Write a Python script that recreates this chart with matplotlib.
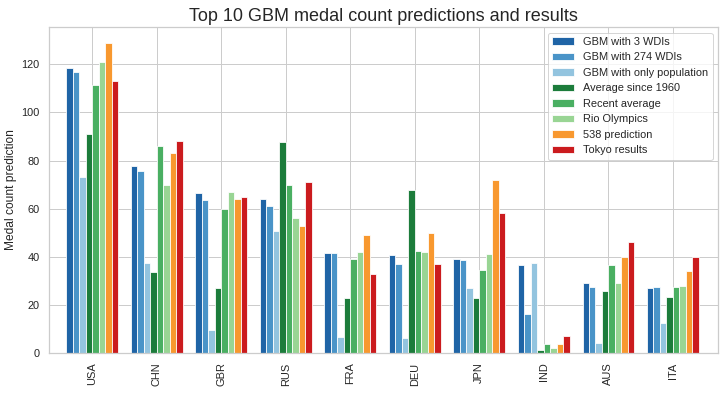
import matplotlib
matplotlib.use("Agg")
import matplotlib.pyplot as plt
import seaborn as sns
import numpy as np

sns.set_theme(style="whitegrid")
plt.rcParams['font.family'] = ['Liberation Sans', 'DejaVu Sans']

countries = ["USA", "CHN", "GBR", "RUS", "FRA", "DEU", "JPN", "IND", "AUS", "ITA"]
gbm_3wdi = [118.5, 77.8, 66.5, 64.0, 41.6, 40.8, 39.1, 36.6, 29.1, 27.0]
gbm_274wdi = [116.8, 75.8, 63.6, 61.1, 41.6, 37.0, 38.7, 16.2, 27.4, 27.4]
gbm_pop = [73.2, 37.4, 9.5, 50.7, 6.6, 6.2, 27.0, 37.4, 4.1, 12.4]
avg_1960 = [91.0, 33.7, 27.0, 87.7, 22.9, 67.8, 22.9, 1.2, 25.8, 23.3]
recent_avg = [111.4, 86.1, 59.9, 69.8, 39.1, 42.4, 34.5, 3.7, 36.6, 27.4]
rio = [121.0, 70.0, 67.0, 56.0, 42.0, 42.0, 41.0, 2.0, 29.0, 28.0]
pred_538 = [128.9, 83.1, 64.0, 52.8, 49.0, 49.9, 71.9, 3.7, 39.9, 34.1]
tokyo = [113, 88, 65, 71, 33, 37, 58, 7, 46, 40]

series = [
    ("GBM with 3 WDIs", gbm_3wdi, "#1f64a6"),
    ("GBM with 274 WDIs", gbm_274wdi, "#4a94c8"),
    ("GBM with only population", gbm_pop, "#93c4df"),
    ("Average since 1960", avg_1960, "#1c7c3b"),
    ("Recent average", recent_avg, "#4aaf62"),
    ("Rio Olympics", rio, "#99d594"),
    ("538 prediction", pred_538, "#f8982f"),
    ("Tokyo results", tokyo, "#cb1b1e"),
]

fig = plt.figure(figsize=(725/72, 394/72), dpi=72)
ax = fig.add_axes([49/725, 41/394, 669/725, 326/394])

x = np.arange(len(countries))
w = 0.1
for k, (name, vals, col) in enumerate(series):
    ax.bar(x + (k - 3.5) * w, vals, width=w, color=col, label=name,
           edgecolor="white", linewidth=0.8)

ax.set_xlim(-0.67, 9.7)
ax.set_ylim(0, 135.5)
ax.set_xticks(x)
ax.set_xticklabels(countries, rotation=90, fontsize=11, color="#262626")
ax.set_yticks(np.arange(0, 121, 20))
ax.tick_params(axis='y', labelsize=11, colors="#262626")
ax.set_ylabel("Medal count prediction", fontsize=12, color="#262626")
ax.set_title("Top 10 GBM medal count predictions and results", fontsize=18, color="#262626")
ax.legend(loc="upper right", fontsize=11, framealpha=0.8, handlelength=2.0,
          borderpad=0.4, labelspacing=0.5)

fig.savefig("out.png", dpi=72)
